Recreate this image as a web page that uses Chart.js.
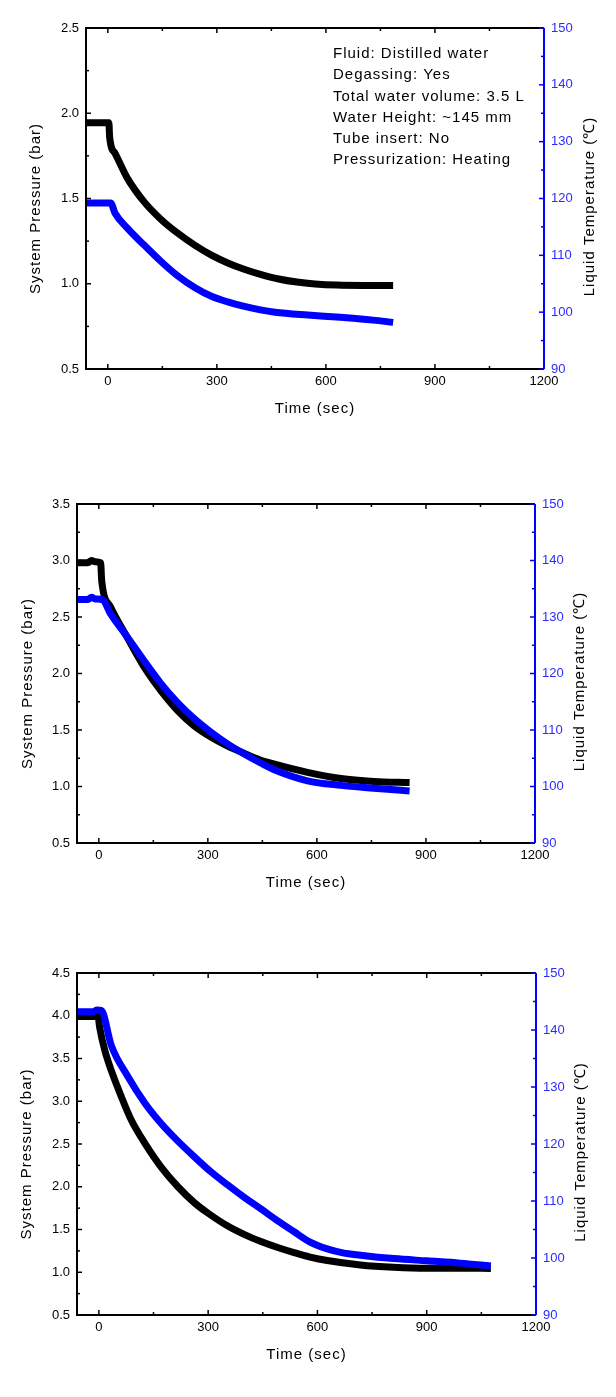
<!DOCTYPE html>
<html>
<head>
<meta charset="utf-8">
<script src="https://cdn.jsdelivr.net/npm/chart.js@4.4.1/dist/chart.umd.min.js"></script>
<style>
    html, body { margin: 0; padding: 0; background: #fff; }
    body { position: relative; width: 616px; height: 1397px; overflow: hidden; }
    canvas { position: absolute; left: 0; }
</style>
</head>
<body>
<canvas id="chart1" width="616" height="440" style="top:0px"></canvas>
<canvas id="chart2" width="616" height="440" style="top:460px"></canvas>
<canvas id="chart3" width="616" height="477" style="top:920px"></canvas>
<script>
// axis ranges and labelled ticks
const timeRange = [-60, 1200];
const timeTicks = [0, 300, 600, 900, 1200];
const tempRange = [90, 150];
const pressureMax = [2.5, 3.5, 4.5];

// panel 1 (~2 bar)
const time1P = [-60, 3, 5, 20, 55, 100, 145, 190, 240, 285, 330, 375, 420, 470, 520, 570, 630, 700, 785];
const pressure1 = [1.945, 1.945, 1.86, 1.765, 1.615, 1.48, 1.38, 1.30, 1.225, 1.168, 1.122, 1.085, 1.055, 1.028, 1.01, 0.999, 0.992, 0.99, 0.99];
const time1T = [-60, 8, 20, 55, 100, 145, 190, 240, 285, 330, 370, 420, 460, 550, 640, 730, 785];
const temp1 = [119.2, 119.2, 117.4, 114.7, 111.8, 109.0, 106.5, 104.3, 102.8, 101.8, 101.1, 100.4, 100.0, 99.5, 99.1, 98.6, 98.2];

// panel 2 (~3 bar)
const time2P = [-60, -30, -20, -10, 5, 8, 32, 78, 124, 170, 216, 261, 307, 353, 399, 444, 481, 574, 666, 757, 855];
const pressure2 = [2.98, 2.98, 3.0, 2.99, 2.98, 2.82, 2.59, 2.32, 2.06, 1.85, 1.674, 1.54, 1.44, 1.36, 1.295, 1.235, 1.20, 1.125, 1.07, 1.045, 1.035];
const time2T = [-60, -30, -20, -10, 10, 32, 78, 124, 170, 216, 261, 307, 353, 399, 444, 481, 574, 666, 757, 855];
const temp2 = [133.1, 133.1, 133.5, 133.2, 133.1, 130.6, 126.5, 122.3, 118.3, 114.9, 112.1, 109.7, 107.6, 105.8, 104.2, 103.0, 101.0, 100.2, 99.7, 99.2];

// panel 3 (~4 bar)
const time3P = [-60, -2, 2, 16, 34, 62, 89, 126, 171, 217, 263, 300, 354, 400, 445, 491, 536, 580, 627, 718, 810, 901, 992, 1076];
const pressure3 = [3.99, 3.99, 3.87, 3.60, 3.36, 3.05, 2.78, 2.51, 2.23, 2.00, 1.81, 1.69, 1.54, 1.44, 1.36, 1.29, 1.23, 1.178, 1.137, 1.085, 1.058, 1.047, 1.047, 1.045];
const time3T = [-60, -15, -5, 7, 34, 80, 126, 171, 217, 263, 308, 354, 400, 445, 491, 536, 580, 627, 670, 718, 810, 901, 992, 1076];
const temp3 = [143.2, 143.2, 143.5, 143.4, 137.3, 131.8, 127.2, 123.6, 120.5, 117.7, 115.1, 112.8, 110.6, 108.6, 106.5, 104.6, 102.8, 101.6, 100.9, 100.5, 99.9, 99.5, 99.1, 98.6];

// test conditions note on panel 1
const notes = [
    'Fluid: Distilled water',
    'Degassing: Yes',
    'Total water volume: 3.5 L',
    'Water Height: ~145 mm',
    'Tube insert: No',
    'Pressurization: Heating'
];

const FONT = "'Liberation Sans', Arial, sans-serif";
const BLUE = '#0000ff';

function toPoints(xs, ys) {
    return xs.map((x, i) => ({ x: x, y: ys[i] }));
}

// inward ticks on one side of the frame
function sideTicks(ctx, scale, step, horizontal, edge, dir) {
    const half = step / 2;
    const start = Math.ceil(scale.min / half - 1e-9);
    const end = Math.floor(scale.max / half + 1e-9);
    for (let k = start; k <= end; k++) {
        const v = k * half;
        const len = k % 2 === 0 ? 5 : 3;
        const p = scale.getPixelForValue(v);
        ctx.beginPath();
        if (horizontal) {
            ctx.moveTo(p, edge);
            ctx.lineTo(p, edge + dir * len);
        } else {
            ctx.moveTo(edge, p);
            ctx.lineTo(edge + dir * len, p);
        }
        ctx.stroke();
    }
}

const framePlugin = {
    id: 'frame',
    afterDatasetsDraw(chart, args, opts) {
        const { ctx, chartArea: a, scales } = chart;
        ctx.save();
        ctx.lineWidth = 2;
        ctx.strokeStyle = '#000';
        ctx.beginPath();
        ctx.moveTo(a.right, a.top);
        ctx.lineTo(a.left, a.top);
        ctx.lineTo(a.left, a.bottom);
        ctx.lineTo(a.right, a.bottom);
        ctx.stroke();

        ctx.lineWidth = 1.5;
        sideTicks(ctx, scales.x, 300, true, a.bottom, -1);
        sideTicks(ctx, scales.x, 300, true, a.top, 1);
        sideTicks(ctx, scales.y, 0.5, false, a.left, 1);

        ctx.strokeStyle = BLUE;
        ctx.lineWidth = 2;
        ctx.beginPath();
        ctx.moveTo(a.right, a.top);
        ctx.lineTo(a.right, a.bottom);
        ctx.stroke();
        ctx.lineWidth = 1.5;
        sideTicks(ctx, scales.y1, 10, false, a.right, -1);
        ctx.restore();
    },
    afterDraw(chart, args, opts) {
        const { ctx, chartArea: a } = chart;
        const cy = (a.top + a.bottom) / 2 + 10;
        ctx.save();
        ctx.font = '15px ' + FONT;
        ctx.letterSpacing = '1px';
        ctx.fillStyle = '#000';
        ctx.textAlign = 'center';
        ctx.textBaseline = 'middle';

        ctx.fillText('Time (sec)', (a.left + a.right) / 2, opts.xTitleY);

        ctx.save();
        ctx.translate(opts.leftTitleX, cy);
        ctx.rotate(-Math.PI / 2);
        ctx.fillText('System Pressure (bar)', 0, 0);
        ctx.restore();

        ctx.save();
        ctx.translate(opts.rightTitleX, cy - 2);
        ctx.rotate(-Math.PI / 2);
        ctx.fillText('Liquid Temperature (\u2103)', 0, 0);
        ctx.restore();

        if (opts.notes) {
            ctx.textAlign = 'left';
            opts.notes.forEach((line, i) => {
                ctx.fillText(line, 333, 54 + i * 21.2);
            });
        }
        ctx.restore();
    }
};

function renderPanel(id, pTime, pVals, tTime, tVals, yMax, box) {
    const canvas = document.getElementById(id);
    if (!canvas || typeof Chart === 'undefined') return;

    new Chart(canvas, {
        type: 'line',
        data: {
            datasets: [{
                label: 'System Pressure',
                data: toPoints(pTime, pVals),
                yAxisID: 'y',
                borderColor: '#000',
                borderWidth: 7,
                pointRadius: 0,
                cubicInterpolationMode: 'monotone',
                clip: 0,
                order: 1
            }, {
                label: 'Liquid Temperature',
                data: toPoints(tTime, tVals),
                yAxisID: 'y1',
                borderColor: BLUE,
                borderWidth: 7,
                pointRadius: 0,
                cubicInterpolationMode: 'monotone',
                clip: 0,
                order: 0
            }]
        },
        options: {
            responsive: false,
            animation: false,
            devicePixelRatio: 1,
            layout: { padding: { top: box.top, left: 0, right: 0, bottom: 0 } },
            plugins: {
                legend: { display: false },
                tooltip: { enabled: false },
                frame: {
                    xTitleY: box.xTitleY,
                    leftTitleX: box.leftTitleX,
                    rightTitleX: box.rightTitleX,
                    notes: box.notes
                }
            },
            scales: {
                x: {
                    type: 'linear',
                    min: timeRange[0],
                    max: timeRange[1],
                    grid: { display: false, drawTicks: false },
                    border: { display: false },
                    afterBuildTicks: scale => {
                        scale.ticks = timeTicks.map(v => ({ value: v }));
                    },
                    ticks: {
                        padding: 5,
                        color: '#000',
                        font: { family: FONT, size: 13 },
                        maxRotation: 0,
                        autoSkip: false,
                        callback: v => String(v)
                    },
                    afterFit: scale => { scale.height = box.xHeight; }
                },
                y: {
                    position: 'left',
                    min: 0.5,
                    max: yMax,
                    grid: { display: false, drawTicks: false },
                    border: { display: false },
                    ticks: {
                        stepSize: 0.5,
                        padding: 7,
                        color: '#000',
                        font: { family: FONT, size: 13 },
                        callback: v => Number(v).toFixed(1)
                    },
                    afterFit: scale => { scale.width = box.left; }
                },
                y1: {
                    position: 'right',
                    min: tempRange[0],
                    max: tempRange[1],
                    grid: { display: false, drawTicks: false },
                    border: { display: false },
                    ticks: {
                        stepSize: 10,
                        padding: 7,
                        color: '#2b2bff',
                        font: { family: FONT, size: 13 },
                        callback: v => String(v)
                    },
                    afterFit: scale => { scale.width = 616 - box.right; }
                }
            }
        },
        plugins: [framePlugin]
    });
}

document.addEventListener('DOMContentLoaded', () => {
    renderPanel('chart1', time1P, pressure1, time1T, temp1, pressureMax[0],
        { left: 86, right: 544, top: 28, xHeight: 71, xTitleY: 409, leftTitleX: 36, rightTitleX: 590, notes: notes });
    renderPanel('chart2', time2P, pressure2, time2T, temp2, pressureMax[1],
        { left: 77, right: 535, top: 44, xHeight: 57, xTitleY: 423, leftTitleX: 28, rightTitleX: 580 });
    renderPanel('chart3', time3P, pressure3, time3T, temp3, pressureMax[2],
        { left: 77, right: 536, top: 53, xHeight: 82, xTitleY: 435, leftTitleX: 27, rightTitleX: 581 });
});
</script>
</body>
</html>
